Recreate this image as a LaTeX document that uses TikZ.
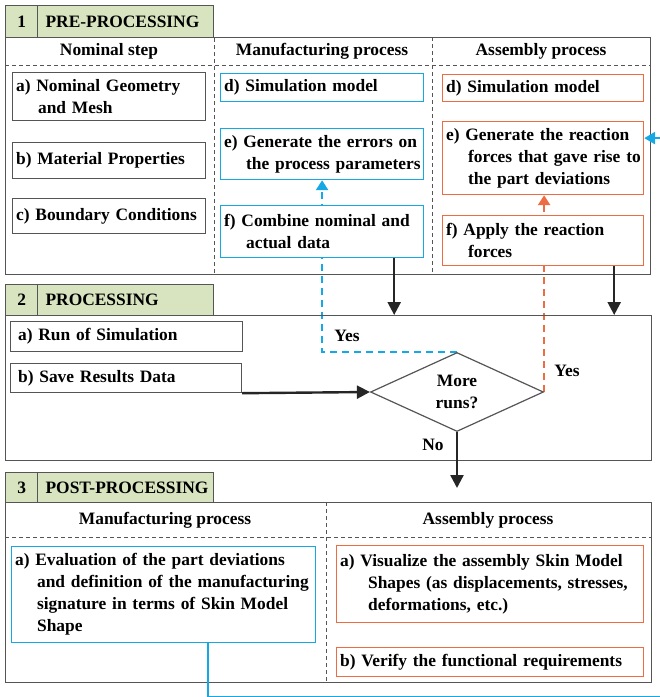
\documentclass[tikz,border=0pt]{standalone}
\usepackage{fontspec}
\setmainfont{Liberation Serif}
\usetikzlibrary{shapes.geometric,arrows.meta,backgrounds}

\definecolor{tabgreen}{RGB}{216,228,192}
\definecolor{manblue}{RGB}{22,168,228}
\definecolor{asmorange}{RGB}{238,108,68}
\definecolor{framegray}{RGB}{85,85,85}
\newcommand{\ind}{\hspace*{22pt}}

\tikzset{
  lbl/.style={font=\bfseries\fontsize{17.4}{22}\selectfont, inner sep=0pt},
  sz/.style 2 args={minimum width=#1, minimum height=#2, text width=#1-7pt},
  cell/.style={lbl, draw, fill=white, anchor=north west, align=left, inner xsep=3.5pt, inner ysep=0pt, line width=1.2pt},
  nombox/.style={cell, draw=framegray},
  manbox/.style={cell, draw=manblue},
  asmbox/.style={cell, draw=asmorange},
  tabcell/.style={cell, draw=framegray, fill=tabgreen},
  frame/.style={draw=framegray, line width=1.2pt, anchor=north west, inner sep=0pt},
  divider/.style={framegray, line width=0.9pt, dash pattern=on 4pt off 3pt},
  flow/.style={line width=2.4pt, black!85, -{Triangle[length=13pt,width=13pt]}},
  bluedash/.style={manblue, line width=2.6pt, dash pattern=on 7pt off 5pt, -{Triangle[length=10pt,width=12pt]}},
  orangedash/.style={asmorange, line width=2.6pt, dash pattern=on 7pt off 5pt, -{Triangle[length=10pt,width=12pt]}},
  blueline/.style={manblue, line width=2.4pt, -{Triangle[length=11pt,width=12pt]}},
}

\begin{document}
\begin{tikzpicture}[x=1pt,y=-1pt]
\useasboundingbox (0,0) rectangle (660,697);

% frames of the three stages
\node[frame, minimum width=645, minimum height=237] (pre) at (5,37) {};
\node[frame, minimum width=646, minimum height=145] (proc) at (5,315) {};
\node[frame, minimum width=646, minimum height=180] (post) at (5,502) {};

% stage tabs
\node[tabcell, sz={32}{32}, align=center] (pren) at (5,5) {1};
\node[tabcell, sz={176}{32}] (pret) at (37,5) {\mbox{\hspace*{4.5pt}PRE-PROCESSING}};
\node[tabcell, sz={32}{31}, align=center] (procn) at (5,284) {2};
\node[tabcell, sz={176}{31}] (proct) at (37,284) {\mbox{\hspace*{4.5pt}PROCESSING}};
\node[tabcell, sz={32}{30}, align=center] (postn) at (5,472) {3};
\node[tabcell, sz={176}{30}] (postt) at (37,472) {\mbox{\hspace*{4.5pt}POST-PROCESSING}};

% column dividers
\draw[divider] (pret.south east) -- (pret.south east |- pre.south);
\draw[divider] (432,37) -- (432 ,274);
\draw[divider] (5,65) -- (650,65);
\draw[divider] (326,502) -- (326,682);
\draw[divider] (5,537) -- (651,537);

% column headers
\node[lbl] (hnom) at (109,51) {Nominal step};
\node[lbl] (hman) at (322,51) {Manufacturing process};
\node[lbl] (hasm) at (541,51) {Assembly process};
\node[lbl] (qhman) at (165,520) {Manufacturing process};
\node[lbl] (qhasm) at (488,520) {Assembly process};

% pre-processing
\node[nombox, sz={193}{48}] (na) at (12,72) {\mbox{a) Nominal Geometry}\\\ind and Mesh};
\node[nombox, sz={193}{36}] (nb) at (12,142) {\mbox{b) Material Properties}};
\node[nombox, sz={193}{35}] (nc) at (12,198) {\mbox{c) Boundary Conditions}};
\node[manbox, sz={203}{28}] (md) at (220,73) {d) Simulation model};
\node[manbox, sz={203}{51}] (me) at (220,128) {\mbox{e) Generate the errors on}\\\mbox{\ind the process parameters}};
\node[manbox, sz={203}{52}] (mf) at (220,205) {\mbox{f) Combine nominal and}\\\ind actual data};
\node[asmbox, sz={201}{27}] (ad) at (442,74) {d) Simulation model};
\node[asmbox, sz={201}{73}] (ae) at (442,121) {\mbox{e) Generate the reaction}\\\mbox{\ind forces that gave rise to}\\\mbox{\ind the part deviations}};
\node[asmbox, sz={201}{50}] (af) at (442,215) {\mbox{f) Apply the reaction}\\\ind forces};

% processing
\node[nombox, sz={232}{30}] (pa) at (10,321) {\hspace*{4pt}a) Run of Simulation};
\node[nombox, sz={231}{29}] (pb) at (10,363) {\hspace*{4pt}b) Save Results Data};
\node[draw=framegray, line width=1.2pt, diamond, aspect=2.2, minimum width=173, minimum height=79,
      lbl, align=center] (more) at (457,392) {More\\runs?};
\node[lbl] (yesman) at (347,336) {Yes};
\node[lbl] (yesasm) at (567,371) {Yes};
\node[lbl] (no) at (433,445) {No};
\coordinate (noend) at (457,488);

% post-processing
\node[manbox, sz={304}{96}] (qm) at (11,546) {\mbox{a) Evaluation of the part deviations}\\\mbox{\ind and definition of the manufacturing}\\\mbox{\ind signature in terms of Skin Model}\\\ind Shape};
\node[asmbox, sz={307}{77}] (qa) at (336,545) {\mbox{a) Visualize the assembly Skin Model}\\\mbox{\hspace*{28pt}Shapes (as displacements, stresses,}\\\mbox{\hspace*{28pt}deformations, etc.)}};
\node[asmbox, sz={307}{29}] (qb) at (336,647) {\mbox{b) Verify the functional requirements}};
\coordinate (loop) at (664,696.8);

% connectors
\draw[flow] ([xshift=-30pt]mf.south east) -- ([xshift=-30pt]mf.south east |- proc.north);
\draw[flow] ([xshift=-30pt]af.south east) -- ([xshift=-30pt]af.south east |- proc.north);
\draw[flow] (pb.south east) -- (more.west);
\begin{scope}[on background layer]
\draw[bluedash] (more.north) -| (me.south);
\draw[orangedash] (more.east) -- (more.east |- ae.south);
\end{scope}
\draw[flow] (more.south) -- (noend);
\draw[blueline] ([xshift=-108pt]qm.south east) |- (loop) |- ([yshift=20pt]ae.east);
\end{tikzpicture}
\end{document}
